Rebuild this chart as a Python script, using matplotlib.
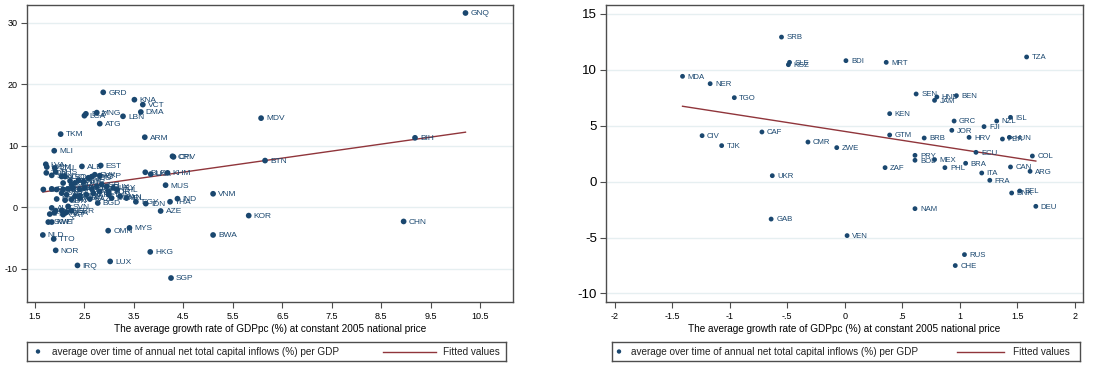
import matplotlib
matplotlib.use('Agg')
import matplotlib.pyplot as plt
import numpy as np

plt.rcParams['font.family'] = ['Liberation Sans', 'DejaVu Sans']

NAVY = '#1a476f'
MAROON = '#90353b'
GRID = '#e6eff1'
FRAME = '#4d4d4d'

# ---------------- left panel data ----------------
left_codes = ['GNQ', 'BIH', 'CHN', 'BTN', 'MDV', 'KOR', 'VNM', 'BWA', 'IND', 'CRI', 'CPV', 'SGP',
              'THA', 'KHM', 'MUS', 'AZE', 'LKA', 'HKG', 'IDN', 'BLR', 'ARM', 'VCT', 'DMA', 'EGY',
              'KNA', 'MYS', 'IRL', 'LBN', 'PAN', 'CHL', 'URY', 'DOM', 'LUX', 'TUN', 'OMN', 'SUR',
              'GUY', 'GRD', 'EST', 'ISR', 'CYP', 'ATG', 'SLV', 'BGD', 'MNG', 'MLT', 'SVK', 'POL',
              'SYC', 'LAO', 'KAZ', 'GEO', 'MAR', 'BLZ', 'NPL', 'LCA', 'ALB', 'TUR', 'PAK', 'ESP',
              'UGA', 'BGR', 'IRQ', 'ROU', 'MOZ', 'CZE', 'GHA', 'PRT', 'SVN', 'GBR', 'ETH', 'RWA',
              'AUS', 'USA', 'LSO', 'SDN', 'MKD', 'NGA', 'QAT', 'TKM', 'LTU', 'AGO', 'SWZ', 'MNE',
              'NOR', 'BHS', 'MLI', 'ZMB', 'MDG', 'AUT', 'FIN', 'TTO', 'NLD', 'SWE', 'KWT', 'BRN',
              'ARE', 'SAU', 'PNG', 'GIN', 'LVA', 'WSM', 'TON']
left_x = [10.20, 9.18, 8.95, 6.15, 6.07, 5.82, 5.10, 5.10, 4.38, 4.28, 4.30, 4.25,
          4.23, 4.18, 4.14, 4.04, 3.84, 3.83, 3.74, 3.73, 3.72, 3.68, 3.64, 3.54,
          3.51, 3.41, 3.35, 3.28, 3.22, 3.16, 3.08, 3.05, 3.02, 2.99, 2.98, 2.98,
          2.95, 2.88, 2.83, 2.85, 2.81, 2.81, 2.81, 2.77, 2.75, 2.75, 2.71, 2.68,
          2.65, 2.65, 2.61, 2.58, 2.54, 2.53, 2.51, 2.50, 2.45, 2.48, 2.41, 2.41,
          2.41, 2.38, 2.36, 2.31, 2.31, 2.27, 2.24, 2.24, 2.17, 2.24, 2.21, 2.17,
          2.14, 2.14, 2.11, 2.11, 2.07, 2.07, 2.07, 2.02, 1.90, 2.04, 2.04, 2.04,
          1.92, 1.92, 1.89, 1.94, 1.94, 1.84, 1.80, 1.88, 1.66, 1.77, 1.84, 1.89,
          1.92, 1.84, 1.84, 1.67, 1.72, 1.74, 1.73]
left_y = [31.6, 11.3, -2.3, 7.6, 14.5, -1.35, 2.2, -4.5, 1.4, 8.3, 8.2, -11.5,
          0.9, 5.6, 3.6, -0.6, 5.4, -7.25, 0.6, 5.7, 11.4, 16.7, 15.5, 0.9,
          17.5, -3.35, 1.5, 14.8, 1.8, 2.9, 3.15, 1.5, -8.8, 2.05, -3.8, 2.6,
          3.4, 18.7, 6.8, 3.7, 5.15, 13.6, 2.6, 0.7, 15.4, 3.4, 5.3, 2.3,
          5.0, 3.0, 1.35, 4.8, 2.05, 15.2, 3.15, 14.9, 6.65, 4.2, 2.9, 1.9,
          1.5, 4.4, -9.45, 3.95, 1.8, 3.15, 3.7, 1.25, 0.15, -0.55, 4.3, 3.0,
          2.05, -0.8, 5.0, 1.15, 3.95, 2.9, -1.2, 11.9, 6.4, 5.0, 2.3, -0.5,
          -7.0, 5.75, 9.2, 2.9, 1.35, -0.1, -1.1, -5.15, -4.5, -2.4, -2.4, -0.9,
          -0.55, 5.2, 3.0, 2.9, 7.0, 6.55, 5.6]
left_fit = [0.598, 1.139]   # intercept, slope of fitted values line

# ---------------- right panel data ----------------
right_codes = ['SRB', 'SLE', 'KGZ', 'MDA', 'NER', 'TGO', 'CIV', 'TJK', 'CAF', 'CMR', 'ZWE',
               'UKR', 'GAB', 'BDI', 'MRT', 'TZA', 'SEN', 'HND', 'JAM', 'BEN', 'KEN', 'GRC',
               'NZL', 'ISL', 'FJI', 'JOR', 'HRV', 'PER', 'HUN', 'GTM', 'BRB', 'ECU', 'COL',
               'PRY', 'BOL', 'MEX', 'ZAF', 'PHL', 'BRA', 'ITA', 'FRA', 'CAN', 'ARG', 'BEL',
               'DNK', 'DEU', 'NAM', 'VEN', 'RUS', 'CHE']
right_x = [-0.55, -0.48, -0.49, -1.41, -1.17, -0.96, -1.24, -1.07, -0.72, -0.32, -0.07,
           -0.63, -0.64, 0.01, 0.36, 1.58, 0.62, 0.80, 0.78, 0.97, 0.39, 0.95,
           1.32, 1.44, 1.21, 0.93, 1.08, 1.37, 1.43, 0.39, 0.69, 1.14, 1.63,
           0.61, 0.61, 0.78, 0.35, 0.87, 1.05, 1.19, 1.26, 1.44, 1.61, 1.52,
           1.45, 1.66, 0.61, 0.02, 1.04, 0.96]
right_y = [12.93, 10.67, 10.46, 9.42, 8.76, 7.51, 4.11, 3.22, 4.44, 3.54, 3.04,
           0.53, -3.35, 10.82, 10.67, 11.15, 7.84, 7.57, 7.27, 7.69, 6.08, 5.42,
           5.42, 5.75, 4.92, 4.59, 3.96, 3.81, 3.96, 4.17, 3.90, 2.62, 2.29,
           2.35, 1.91, 1.97, 1.25, 1.25, 1.64, 0.77, 0.12, 1.31, 0.92, -0.84,
           -1.02, -2.21, -2.42, -4.83, -6.53, -7.51]
right_fit = [4.49, -1.597]

left_xticks = [1.5, 2.5, 3.5, 4.5, 5.5, 6.5, 7.5, 8.5, 9.5, 10.5]
left_xticklabels = ['1.5', '2.5', '3.5', '4.5', '5.5', '6.5', '7.5', '8.5', '9.5', '10.5']
left_yticks = [-10, 0, 10, 20, 30]
right_xticks = [-2, -1.5, -1, -0.5, 0, 0.5, 1, 1.5, 2]
right_xticklabels = ['-2', '-1.5', '-1', '-.5', '0', '.5', '1', '1.5', '2']
right_yticks = [-10, -5, 0, 5, 10, 15]

xlabel_text = 'The average growth rate of GDPpc (%) at constant 2005 national price'
legend_scatter = 'average over time of annual net total capital inflows (%) per GDP'
legend_line = 'Fitted values'

W, H = 1093, 368
fig = plt.figure(figsize=(W / 100, H / 100), dpi=100)


def px_axes(x0, y0, x1, y1):
    return fig.add_axes([x0 / W, 1 - y1 / H, (x1 - x0) / W, (y1 - y0) / H])


def panel(ax, codes, xs, ys, fit, xlim, ylim, xt, xtl, yt, ytsize, msize, lsize):
    ax.set_xlim(*xlim)
    ax.set_ylim(*ylim)
    for v in yt:
        ax.axhline(v, color=GRID, lw=1.0, zorder=0)
    xs = np.asarray(xs)
    ys = np.asarray(ys)
    ax.scatter(xs, ys, s=msize, color=NAVY, edgecolors='none', zorder=3)
    for c, x, y in zip(codes, xs, ys):
        ax.annotate(c, (x, y), xytext=(3.6, -0.6), textcoords='offset points',
                    ha='left', va='center', fontsize=lsize, color=NAVY, zorder=4)
    fx = np.array([xs.min(), xs.max()])
    ax.plot(fx, fit[0] + fit[1] * fx, color=MAROON, lw=1.0, zorder=2)
    ax.set_xticks(xt)
    ax.set_xticklabels(xtl)
    ax.set_yticks(yt)
    ax.set_yticklabels([str(v) for v in yt])
    ax.tick_params(axis='x', length=4, width=0.8, color=FRAME, labelsize=6.5, pad=3)
    ax.tick_params(axis='y', length=4, width=0.8, color=FRAME, labelsize=ytsize, pad=2.5)
    for s in ax.spines.values():
        s.set_color(FRAME)
        s.set_linewidth(1.0)
    ax.set_xlabel(xlabel_text, fontsize=7.2, labelpad=2)


def legend_box(x0, x1, mx, tx, lx0, lx1, fx):
    lax = px_axes(x0, 342, x1, 361)
    lax.set_xlim(x0, x1)
    lax.set_ylim(0, 1)
    lax.set_xticks([])
    lax.set_yticks([])
    for s in lax.spines.values():
        s.set_color(FRAME)
        s.set_linewidth(1.0)
    lax.scatter([mx], [0.5], s=10, color=NAVY, edgecolors='none')
    lax.text(tx, 0.47, legend_scatter, fontsize=7.2, va='center', ha='left', color='#222222')
    lax.plot([lx0, lx1], [0.5, 0.5], color=MAROON, lw=1.0)
    lax.text(fx, 0.47, legend_line, fontsize=7.2, va='center', ha='left', color='#222222')


axL = px_axes(27, 5, 513, 302)
panel(axL, left_codes, left_x, left_y, left_fit, (1.34, 11.16), (-15.4, 32.9),
      left_xticks, left_xticklabels, left_yticks, 6.5, 17, 6.0)

axR = px_axes(606, 5, 1083, 302)
panel(axR, right_codes, right_x, right_y, right_fit, (-2.075, 2.07), (-10.77, 15.8),
      right_xticks, right_xticklabels, right_yticks, 9.5, 12, 5.6)

legend_box(27, 506, 38, 52, 383, 436, 443)
legend_box(612, 1080, 619, 631, 957, 1004, 1013)

fig.savefig('out.png', dpi=100)
